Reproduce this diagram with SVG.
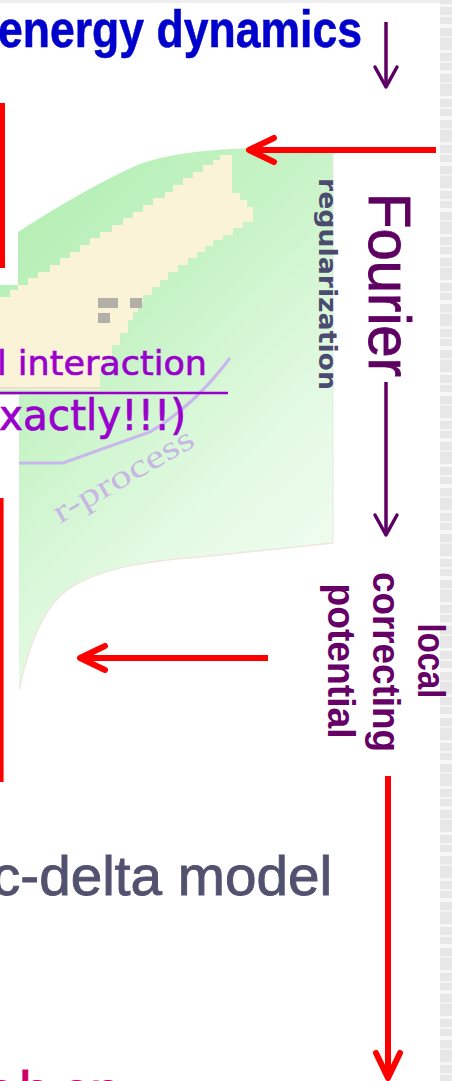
<svg xmlns="http://www.w3.org/2000/svg" width="452" height="1081" viewBox="0 0 452 1081">
  <defs>
    <style>
      .sans { font-family: "Liberation Sans", Arial, sans-serif; }
      .dv { font-family: "DejaVu Sans", "Liberation Sans", sans-serif; }
      .red { stroke: #ff0000; stroke-width: 6; fill: none; }
      .plum { stroke: #5e0062; stroke-width: 3.5; fill: none; }
    </style>
    <linearGradient id="chartGreen" x1="0.15" y1="0" x2="0.75" y2="1">
      <stop offset="0" stop-color="#b2eeb2"/>
      <stop offset="0.35" stop-color="#c6f3c6"/>
      <stop offset="0.7" stop-color="#e4fae4"/>
      <stop offset="1" stop-color="#f3fdf3"/>
    </linearGradient>
    <pattern id="paper" width="12" height="46" patternUnits="userSpaceOnUse">
      <rect width="12" height="46" fill="#e7e7e7"/>
      <rect y="4" width="12" height="3" fill="#f6f6f6"/>
      <rect y="15" width="12" height="2" fill="#f3f3f3"/>
      <rect y="24" width="12" height="4" fill="#f7f7f7"/>
      <rect y="36" width="12" height="2" fill="#f2f2f2"/>
    </pattern>
    <filter id="soft" x="-5%" y="-5%" width="110%" height="110%">
      <feGaussianBlur stdDeviation="0.7"/>
    </filter>
    <marker id="headRed" viewBox="-30 -16 34 32" markerWidth="34" markerHeight="32" refX="0" refY="0" orient="auto" markerUnits="userSpaceOnUse">
      <path d="M-25,-12 L0,0 L-25,12" fill="none" stroke="#ff0000" stroke-width="6" stroke-linecap="round" stroke-linejoin="round"/>
    </marker>
    <marker id="headPlum" viewBox="-26 -14 30 28" markerWidth="30" markerHeight="28" refX="0" refY="0" orient="auto" markerUnits="userSpaceOnUse">
      <path d="M-20,-11 L0,0 L-20,11" fill="none" stroke="#5e0062" stroke-width="3.5" stroke-linecap="round" stroke-linejoin="round"/>
    </marker>
  </defs>

  <!-- page -->
  <rect width="452" height="1081" fill="#ffffff"/>
  <rect width="440" height="3" fill="#eeeeee"/>
  <rect x="440" width="12" height="1081" fill="url(#paper)"/>

  <!-- faded nuclide chart in the background -->
  <g id="chart" filter="url(#soft)">
    <path d="M333,148 L248,148 C200,150 160,155 133,167 C100,182 60,205 18,232 L0,244 L0,690 L19,690 C30,640 45,605 70,588 C95,572 130,562 200,557 L333,543 Z" fill="url(#chartGreen)"/>
    <path d="M220,155 L232,155 L232,193 L240,193 L240,200 L247,200 L247,207 L253,207 L253,222 L243,222 L243,228 L233,228 L233,235 L223,235 L223,240 L213,240 L213,246 L205,246 L205,252 L197,252 L197,258 L188,258 L188,265 L178,265 L178,272 L168,272 L168,280 L160,280 L160,287 L152,287 L152,295 L143,295 L143,303 L138,303 L138,312 L133,312 L133,320 L128,320 L128,333 L120,333 L120,345 L112,345 L112,358 L105,358 L105,372 L100,372 L100,390 L0,390 L0,297 L10,297 L10,290 L18,290 L18,285 L28,285 L28,278 L38,278 L38,272 L50,272 L50,265 L60,265 L60,258 L70,258 L70,252 L80,252 L80,245 L90,245 L90,238 L100,238 L100,232 L112,232 L112,225 L123,225 L123,218 L133,218 L133,212 L143,212 L143,205 L153,205 L153,198 L165,198 L165,192 L173,192 L173,185 L183,185 L183,178 L193,178 L193,172 L203,172 L203,165 L213,165 L213,160 L220,160 Z" fill="#fbf3d8"/>
    <rect x="98" y="298" width="20" height="10" fill="#b2b0a6"/>
    <rect x="130" y="298" width="12" height="10" fill="#b2b0a6"/>
    <rect x="98" y="313" width="12" height="10" fill="#b2b0a6"/>
    <line x1="333" y1="148" x2="333" y2="543" stroke="#e6ebe2" stroke-width="1.2"/>
    <path d="M333,543 L200,557 C130,562 95,572 70,588 C45,605 30,640 19,690" fill="none" stroke="#f1e6de" stroke-width="1.5"/>
    <line x1="0" y1="388" x2="100" y2="388" stroke="#cfcfc4" stroke-width="1"/>
    <path d="M19,463 L63,463 L150,432 Q195,405 230,358" fill="none" stroke="#c9b6ec" stroke-width="3"/>
    <text transform="translate(60,524) rotate(-30)" font-family="'Liberation Serif', serif" font-size="33" fill="#c6b6e2" textLength="158" lengthAdjust="spacingAndGlyphs">r-process</text>
  </g>

  <!-- white text-box backgrounds on the left -->
  <rect x="0" y="140" width="18" height="145" fill="#ffffff"/>
  <rect x="0" y="395" width="19" height="400" fill="#ffffff"/>

  <g id="title">
    <text class="sans" x="-2" y="47" font-size="52" font-weight="bold" fill="#0000cc" stroke="#0000cc" stroke-width="0.6" textLength="364" lengthAdjust="spacingAndGlyphs">energy dynamics</text>
  </g>

  <g id="interaction">
    <text class="dv" x="-3" y="375" font-size="34" fill="#9900cc" stroke="#9900cc" stroke-width="0.6" textLength="210" lengthAdjust="spacingAndGlyphs">l interaction</text>
    <line x1="0" y1="393" x2="228" y2="393" stroke="#9900cc" stroke-width="2.5"/>
    <text class="dv" x="-1" y="430" font-size="42" fill="#9900cc" stroke="#9900cc" stroke-width="0.7" textLength="187" lengthAdjust="spacingAndGlyphs">xactly!!!)</text>
  </g>

  <g id="regularization">
    <text class="dv" transform="translate(319,178) rotate(90)" font-size="25" font-weight="bold" fill="#4b4b70" textLength="212" lengthAdjust="spacingAndGlyphs">regularization</text>
  </g>

  <g id="fourier">
    <text class="sans" transform="translate(369,193) rotate(90)" font-size="60" fill="#5e0062" stroke="#5e0062" stroke-width="0.9" textLength="184" lengthAdjust="spacingAndGlyphs">Fourier</text>
  </g>

  <g id="local-correcting-potential" class="sans" font-size="38" font-weight="bold" fill="#660066" text-anchor="middle">
    <text transform="translate(418,661) rotate(90)" textLength="75" lengthAdjust="spacingAndGlyphs">local</text>
    <text transform="translate(373,662) rotate(90)" textLength="180" lengthAdjust="spacingAndGlyphs">correcting</text>
    <text transform="translate(328,661) rotate(90)" textLength="155" lengthAdjust="spacingAndGlyphs">potential</text>
  </g>

  <g id="delta-model">
    <text class="sans" x="-8" y="895" font-size="56" fill="#525270" stroke="#525270" stroke-width="0.9" textLength="340" lengthAdjust="spacingAndGlyphs">c-delta model</text>
  </g>

  <g id="bottom-line">
    <text class="sans" x="-14 19 61 90" y="1110" font-size="56" fill="#cc0066" stroke="#cc0066" stroke-width="0.9">chen</text>
  </g>

  <!-- connectors -->
  <g id="connectors">
    <line class="plum" x1="386" y1="22" x2="386" y2="87" marker-end="url(#headPlum)"/>
    <line class="plum" x1="386" y1="382" x2="386" y2="535" marker-end="url(#headPlum)"/>
    <line class="red" x1="436" y1="150" x2="249" y2="150" marker-end="url(#headRed)"/>
    <line class="red" x1="268" y1="658" x2="80" y2="658" marker-end="url(#headRed)"/>
    <line class="red" x1="388" y1="776" x2="388" y2="1078" marker-end="url(#headRed)"/>
    <line x1="2.5" y1="103" x2="2.5" y2="268" stroke="#ff0000" stroke-width="5"/>
    <line x1="1.8" y1="498" x2="1.8" y2="782" stroke="#ff0000" stroke-width="3.6"/>
  </g>
</svg>
